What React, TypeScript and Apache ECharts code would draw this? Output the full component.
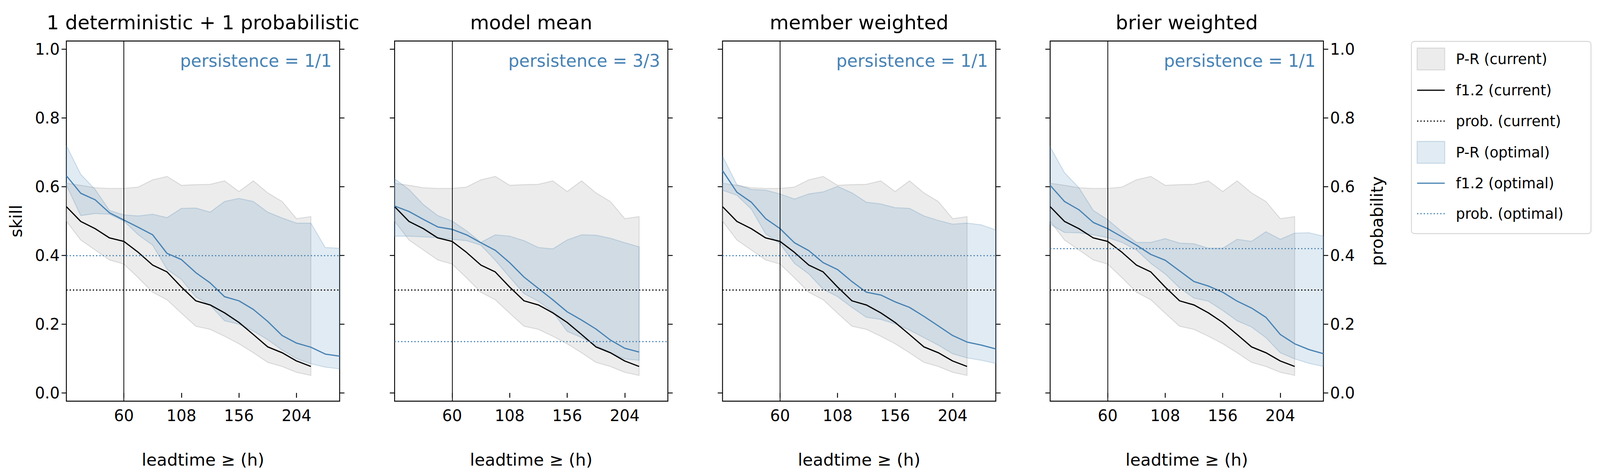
import React from "react";
import * as echarts from "echarts";

const leadCurrent = [12, 24, 36, 48, 60, 72, 84, 96, 108, 120, 132, 144, 156, 168, 180, 192, 204, 216];
const leadOptimal = [12, 24, 36, 48, 60, 72, 84, 96, 108, 120, 132, 144, 156, 168, 180, 192, 204, 216, 228, 240];
const xTicks = [60, 108, 156, 204];
const yTicks = [0, 0.2, 0.4, 0.6, 0.8, 1.0];

const titles = ["1 deterministic + 1 probabilistic", "model mean", "member weighted", "brier weighted"];
const persistence = ["persistence = 1/1", "persistence = 3/3", "persistence = 1/1", "persistence = 1/1"];

// current setup, same in every panel
const f12Current = [0.542, 0.499, 0.478, 0.451, 0.441, 0.409, 0.372, 0.352, 0.308, 0.268, 0.256, 0.233, 0.205, 0.17, 0.134, 0.117, 0.093, 0.077];
const prHiCurrent = [0.61, 0.604, 0.597, 0.595, 0.595, 0.599, 0.62, 0.63, 0.604, 0.606, 0.607, 0.617, 0.586, 0.617, 0.582, 0.557, 0.507, 0.513];
const prLoCurrent = [0.5, 0.445, 0.416, 0.387, 0.375, 0.335, 0.293, 0.271, 0.232, 0.194, 0.185, 0.165, 0.143, 0.117, 0.089, 0.077, 0.06, 0.051];
const probCurrent = [0.3, 0.3, 0.3, 0.3];

// optimal setup per panel
const f12Optimal = [
  [0.632, 0.581, 0.562, 0.524, 0.503, 0.482, 0.46, 0.406, 0.388, 0.35, 0.32, 0.28, 0.268, 0.243, 0.208, 0.167, 0.145, 0.133, 0.113, 0.107],
  [0.544, 0.528, 0.505, 0.483, 0.476, 0.46, 0.437, 0.415, 0.379, 0.337, 0.304, 0.271, 0.236, 0.212, 0.186, 0.154, 0.13, 0.119],
  [0.647, 0.584, 0.555, 0.507, 0.478, 0.437, 0.414, 0.379, 0.359, 0.324, 0.293, 0.285, 0.265, 0.249, 0.223, 0.195, 0.167, 0.148, 0.139, 0.128],
  [0.604, 0.557, 0.533, 0.496, 0.478, 0.454, 0.43, 0.403, 0.386, 0.355, 0.324, 0.311, 0.293, 0.267, 0.247, 0.22, 0.17, 0.143, 0.126, 0.114],
];
const prHiOptimal = [
  [0.72, 0.636, 0.592, 0.531, 0.518, 0.515, 0.52, 0.51, 0.537, 0.538, 0.526, 0.557, 0.566, 0.557, 0.526, 0.509, 0.494, 0.494, 0.423, 0.421],
  [0.623, 0.592, 0.548, 0.516, 0.5, 0.472, 0.438, 0.46, 0.456, 0.443, 0.423, 0.419, 0.445, 0.46, 0.459, 0.45, 0.437, 0.425],
  [0.689, 0.606, 0.592, 0.59, 0.579, 0.564, 0.579, 0.585, 0.601, 0.582, 0.555, 0.55, 0.539, 0.537, 0.515, 0.502, 0.491, 0.494, 0.489, 0.474],
  [0.716, 0.641, 0.597, 0.531, 0.504, 0.469, 0.438, 0.438, 0.449, 0.436, 0.434, 0.421, 0.421, 0.447, 0.441, 0.469, 0.447, 0.465, 0.466, 0.456],
];
const prLoOptimal = [
  [0.605, 0.516, 0.522, 0.52, 0.5, 0.46, 0.43, 0.36, 0.33, 0.28, 0.255, 0.21, 0.2, 0.18, 0.155, 0.125, 0.1, 0.085, 0.075, 0.07],
  [0.456, 0.456, 0.454, 0.452, 0.447, 0.443, 0.43, 0.386, 0.337, 0.289, 0.267, 0.236, 0.179, 0.161, 0.139, 0.117, 0.099, 0.095],
  [0.59, 0.575, 0.535, 0.463, 0.434, 0.377, 0.346, 0.302, 0.28, 0.249, 0.22, 0.214, 0.201, 0.183, 0.161, 0.139, 0.114, 0.102, 0.095, 0.086],
  [0.491, 0.467, 0.466, 0.46, 0.452, 0.438, 0.416, 0.377, 0.346, 0.306, 0.276, 0.267, 0.24, 0.21, 0.192, 0.161, 0.117, 0.099, 0.086, 0.077],
];
const probOptimal = [0.4, 0.15, 0.4, 0.425];

const legendLabels = ["P-R (current)", "f1.2 (current)", "prob. (current)", "P-R (optimal)", "f1.2 (optimal)", "prob. (optimal)"];

const FONT = "DejaVu Sans";
const BLUE = "#4682b4";
const GRAY_FILL = "rgba(150,150,150,0.18)";
const GRAY_EDGE = "rgba(150,150,150,0.3)";
const BLUE_FILL = "rgba(70,130,180,0.16)";
const BLUE_EDGE = "rgba(70,130,180,0.25)";

// layout in reference pixels (5328 x 1216), scaled to the actual container
const REF_W = 5328;
const REF_H = 1216;
const gridLefts = [221, 1314, 2406, 3497];
const GRID_W = 910;
const GRID_TOP = 105;
const GRID_H = 922;

function band(i: number, xs: number[], hi: number[], lo: number[], fill: string, stroke: string, lw: number) {
  return {
    type: "custom",
    xAxisIndex: i,
    yAxisIndex: i * 2,
    data: xs.slice(0, lo.length).map((x, k) => [x, lo[k]]),
    encode: { x: 0, y: 1 },
    silent: true,
    z: 1,
    renderItem: (params: any, api: any) => {
      if (params.dataIndex !== 0) return null;
      const n = lo.length;
      const pts: number[][] = [];
      for (let k = 0; k < n; k++) pts.push(api.coord([xs[k], hi[k]]));
      for (let k = n - 1; k >= 0; k--) pts.push(api.coord([xs[k], lo[k]]));
      return { type: "polygon", shape: { points: pts }, style: { fill, stroke, lineWidth: lw } };
    },
  };
}

export default function App() {
  const ref = React.useRef<HTMLDivElement>(null);

  React.useEffect(() => {
    document.body.style.margin = "0";
    if (!ref.current) return;
    const c = echarts.init(ref.current, null, { renderer: "svg" });
    const sx = ref.current.clientWidth / REF_W;
    const sy = ref.current.clientHeight / REF_H;
    const s = Math.min(sx, sy);
    const X = (v: number) => v * sx;
    const Y = (v: number) => v * sy;
    const F = (v: number) => v * s;

    const grid: any[] = [];
    const xAxis: any[] = [];
    const yAxis: any[] = [];
    const series: any[] = [];
    const graphic: any[] = [];

    gridLefts.forEach((left, i) => {
      grid.push({ left: X(left), top: Y(GRID_TOP), width: X(GRID_W), height: Y(GRID_H), show: true, borderColor: "#000", borderWidth: F(3), backgroundColor: "transparent" });
      xAxis.push({
        type: "value", gridIndex: i, min: 12, max: 240,
        axisLine: { show: false },
        axisTick: { customValues: xTicks, length: F(16), lineStyle: { color: "#000", width: F(3) } },
        axisLabel: { customValues: xTicks, fontSize: F(52), fontFamily: FONT, color: "#000", margin: F(22) },
        splitLine: { show: false },
        name: "leadtime ≥ (h)", nameLocation: "middle", nameGap: Y(128),
        nameTextStyle: { fontSize: F(56), fontFamily: FONT, color: "#000" },
      });
      const yBase = {
        type: "value", gridIndex: i, min: -0.024, max: 1.024,
        axisLine: { show: false },
        splitLine: { show: false },
        axisTick: { customValues: yTicks, length: F(16), lineStyle: { color: "#000", width: F(3) } },
        nameLocation: "middle",
        nameTextStyle: { fontSize: F(56), fontFamily: FONT, color: "#000" },
      };
      yAxis.push({
        ...yBase, position: "left",
        axisLabel: { show: i === 0, customValues: yTicks, fontSize: F(52), fontFamily: FONT, color: "#000", margin: F(22), formatter: (v: number) => v.toFixed(1) },
        name: i === 0 ? "skill" : "", nameGap: F(140),
      });
      yAxis.push({
        ...yBase, position: "right",
        axisLabel: { show: i === 3, customValues: yTicks, fontSize: F(52), fontFamily: FONT, color: "#000", margin: F(22), formatter: (v: number) => v.toFixed(1) },
        name: i === 3 ? "probability" : "", nameGap: F(150), nameRotate: 90,
      });

      series.push(band(i, leadCurrent, prHiCurrent, prLoCurrent, GRAY_FILL, GRAY_EDGE, F(3)));
      series.push(band(i, leadOptimal, prHiOptimal[i], prLoOptimal[i], BLUE_FILL, BLUE_EDGE, F(3)));
      series.push({
        type: "line", xAxisIndex: i, yAxisIndex: i * 2, z: 3,
        data: leadCurrent.map((x, k) => [x, f12Current[k]]),
        symbol: "none", lineStyle: { color: "#000", width: F(4) },
        markLine: {
          silent: true, symbol: "none", label: { show: false },
          data: [
            { xAxis: 60, lineStyle: { color: "#000", width: F(2.5), type: "solid" } },
            { yAxis: probCurrent[i], lineStyle: { color: "#000", width: F(4), type: [F(4), F(7)] } },
          ],
        },
      });
      series.push({
        type: "line", xAxisIndex: i, yAxisIndex: i * 2, z: 3,
        data: f12Optimal[i].map((v, k) => [leadOptimal[k], v]),
        symbol: "none", lineStyle: { color: BLUE, width: F(4) },
        markLine: {
          silent: true, symbol: "none", label: { show: false },
          data: [{ yAxis: probOptimal[i], lineStyle: { color: BLUE, width: F(4), type: [F(4), F(7)] } }],
        },
      });

      graphic.push({
        type: "text", x: X(left + GRID_W / 2), y: Y(58),
        style: { text: titles[i], fontSize: F(65), fontFamily: FONT, fill: "#000", textAlign: "center", textVerticalAlign: "middle" },
      });
      graphic.push({
        type: "text", x: X(left + GRID_W - 26), y: Y(155),
        style: { text: persistence[i], fontSize: F(57), fontFamily: FONT, fill: BLUE, textAlign: "right", textVerticalAlign: "middle" },
      });
    });

    // legend box
    graphic.push({ type: "rect", shape: { x: X(4700), y: Y(106), width: X(598), height: Y(492), r: F(10) }, style: { fill: "#fff", stroke: "#d6d6d6", lineWidth: F(3) } });
    const rowsY = [151, 231, 310, 390, 469, 547];
    legendLabels.forEach((lab, k) => {
      const cy = Y(rowsY[k]);
      if (k === 0 || k === 3) {
        graphic.push({ type: "rect", shape: { x: X(4719), y: cy - Y(28), width: X(92), height: Y(56) }, style: { fill: k === 0 ? GRAY_FILL : BLUE_FILL, stroke: k === 0 ? GRAY_EDGE : BLUE_EDGE, lineWidth: F(3) } });
      } else {
        const dotted = k === 2 || k === 5;
        graphic.push({ type: "line", shape: { x1: X(4719), y1: cy, x2: X(4811), y2: cy }, style: { stroke: k < 3 ? "#000" : BLUE, lineWidth: F(4), lineDash: dotted ? [F(4), F(7)] : null } });
      }
      graphic.push({ type: "text", x: X(4848), y: cy, style: { text: lab, fontSize: F(48), fontFamily: FONT, fill: "#000", textVerticalAlign: "middle" } });
    });

    c.setOption({ animation: false, grid, xAxis, yAxis, series, graphic });
    return () => c.dispose();
  }, []);

  return <div ref={ref} style={{ width: "100vw", height: "100vh" }} />;
}
